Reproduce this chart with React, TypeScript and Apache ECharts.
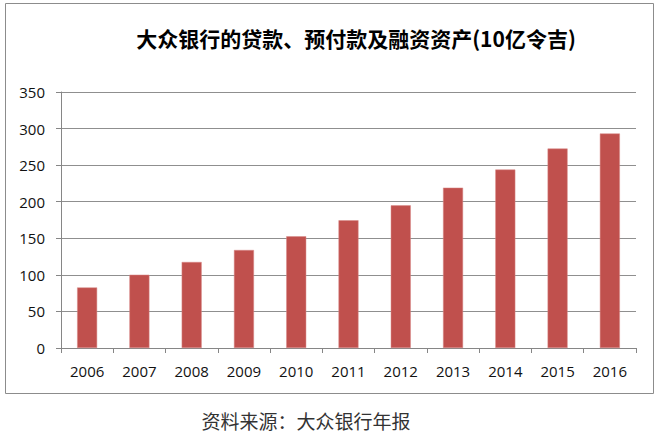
import React, { useEffect, useRef } from "react";
import * as echarts from "echarts";

const years = ["2006", "2007", "2008", "2009", "2010", "2011", "2012", "2013", "2014", "2015", "2016"];
const loans = [82.8, 100.2, 117.6, 134, 152.7, 174.6, 195, 219.2, 244, 272.7, 293.3];
const titleText = "大众银行的贷款、预付款及融资资产(10亿令吉)";
const sourceText = "资料来源：大众银行年报";

export default function App() {
  const ref = useRef<HTMLDivElement>(null);
  useEffect(() => {
    document.body.style.margin = "0";
    const chart = echarts.init(ref.current!, undefined, { renderer: "svg" });
    chart.setOption({
      animation: false,
      backgroundColor: "#ffffff",
      graphic: [
        {
          type: "rect",
          shape: { x: 5.5, y: 3.5, width: 648, height: 390 },
          style: { fill: "none", stroke: "#8c8c8c", lineWidth: 1 },
          silent: true,
        },
        {
          type: "text",
          x: 356,
          y: 38,
          style: {
            text: titleText,
            font: 'bold 21px "Noto Sans CJK SC"',
            fill: "#000000",
            align: "center",
            verticalAlign: "middle",
          },
        },
        {
          type: "text",
          x: 306,
          y: 420,
          style: {
            text: sourceText,
            font: '19px "Noto Sans CJK SC"',
            fill: "#333333",
            align: "center",
            verticalAlign: "middle",
          },
        },
      ],
      grid: { left: 61, right: 24, top: 92, bottom: 87, containLabel: false },
      xAxis: {
        type: "category",
        data: years,
        axisLine: { show: true, lineStyle: { color: "#868686", width: 1 } },
        axisTick: { show: true, length: 5, alignWithLabel: false, lineStyle: { color: "#868686" } },
        axisLabel: { color: "#111111", fontSize: 15, fontFamily: "Open Sans", margin: 15 },
      },
      yAxis: {
        type: "value",
        min: 0,
        max: 350,
        interval: 50,
        axisLine: { show: true, lineStyle: { color: "#868686", width: 1 } },
        axisTick: { show: true, length: 5, lineStyle: { color: "#868686" } },
        axisLabel: { color: "#111111", fontSize: 15, fontFamily: "Open Sans", margin: 16 },
        splitLine: { show: true, lineStyle: { color: "#8f8f8f", width: 1 } },
      },
      series: [
        {
          type: "bar",
          data: loans,
          barWidth: 20,
          itemStyle: { color: "#C0504D", borderColor: "#d88a88", borderWidth: 0.5 },
        },
      ],
    });
    return () => chart.dispose();
  }, []);
  return <div ref={ref} style={{ width: 660, height: 435 }} />;
}
